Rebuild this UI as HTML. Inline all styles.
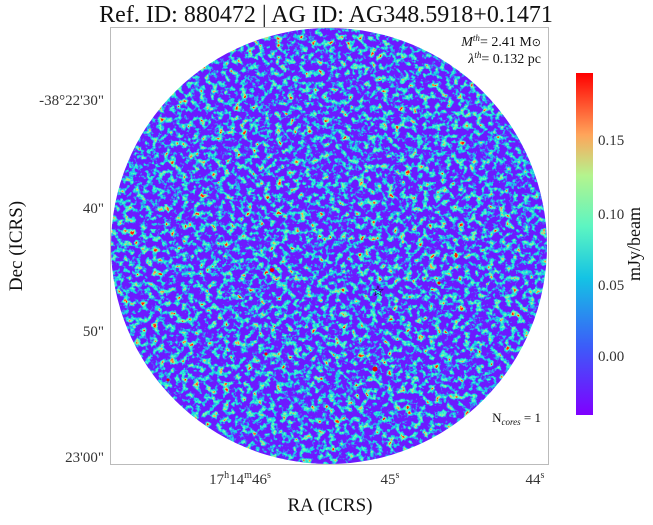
<!DOCTYPE html>
<html><head><meta charset="utf-8"><style>
body{margin:0;background:#fff;}
svg text{font-family:"Liberation Serif",serif;fill:#333;}
</style></head><body>
<svg width="653" height="520" xmlns="http://www.w3.org/2000/svg">
<defs>
<filter id="nz" x="0" y="0" width="100%" height="100%" color-interpolation-filters="sRGB">
<feTurbulence type="fractalNoise" baseFrequency="0.17" numOctaves="3" seed="7" result="t"/>
<feColorMatrix type="matrix" values="1 0 0 0 0 1 0 0 0 0 1 0 0 0 0 0 0 0 0 1" in="t"/>
<feComponentTransfer>
<feFuncR type="linear" slope="1.5" intercept="-0.25"/>
<feFuncG type="linear" slope="1.5" intercept="-0.25"/>
<feFuncB type="linear" slope="1.5" intercept="-0.25"/>
</feComponentTransfer>
<feComponentTransfer>
<feFuncR type="discrete" tableValues="0.43 0.43 0.43 0.43 0.43 0.43 0.43 0.43 0.3 0.15 0.1 0.2 0.35 0.6 1 1"/>
<feFuncG type="discrete" tableValues="0.1 0.1 0.1 0.1 0.1 0.1 0.1 0.1 0.4 0.7 0.85 0.93 0.95 0.95 0.65 0.1"/>
<feFuncB type="discrete" tableValues="1 1 1 1 1 1 1 1 0.98 0.93 0.88 0.82 0.75 0.6 0.3 0.05"/>
</feComponentTransfer>
</filter>
<clipPath id="cc"><circle cx="329" cy="246" r="218"/></clipPath>
<linearGradient id="cb" x1="0" y1="1" x2="0" y2="0">
<stop offset="0" stop-color="#7f00ff"/>
<stop offset="0.2" stop-color="#3c5cf9"/>
<stop offset="0.4" stop-color="#14c3e4"/>
<stop offset="0.55" stop-color="#5cf5c2"/>
<stop offset="0.7" stop-color="#b4f48e"/>
<stop offset="0.82" stop-color="#ffa45a"/>
<stop offset="1" stop-color="#ff0000"/>
</linearGradient>
</defs>
<text x="326" y="22" font-size="24" text-anchor="middle" style="fill:#111">Ref. ID: 880472 | AG ID: AG348.5918+0.1471</text>
<rect x="110.5" y="27.5" width="438" height="437" fill="#fff" stroke="#bbb"/>
<g clip-path="url(#cc)"><rect x="110" y="28" width="438" height="436" filter="url(#nz)"/></g>
<g fill="#e00"><circle cx="272" cy="270" r="2"/><circle cx="375" cy="369" r="2.5"/><circle cx="439" cy="283" r="1.5"/><circle cx="266" cy="354" r="1.5"/><circle cx="168" cy="380" r="1.5"/></g>
<text x="378" y="296" font-size="15" text-anchor="middle" style="fill:#000">☆</text>
<text x="541" y="46" font-size="14" text-anchor="end" style="fill:#111"><tspan font-style="italic">M</tspan><tspan font-size="9" dy="-5" font-style="italic">th</tspan><tspan dy="5">= 2.41 M</tspan><tspan font-size="11">⊙</tspan></text>
<text x="541" y="63" font-size="14" text-anchor="end" style="fill:#111"><tspan font-style="italic">λ</tspan><tspan font-size="9" dy="-5" font-style="italic">th</tspan><tspan dy="5">= 0.132 pc</tspan></text>
<text x="541" y="422" font-size="13" text-anchor="end" style="fill:#111">N<tspan font-size="9" dy="3" font-style="italic">cores</tspan><tspan dy="-3"> = 1</tspan></text>
<g font-size="15" text-anchor="end">
<text x="104" y="105">-38°22'30"</text>
<text x="104" y="213">40"</text>
<text x="104" y="336">50"</text>
<text x="104" y="462">23'00"</text>
</g>
<g font-size="15" text-anchor="middle">
<text x="240" y="484">17<tspan font-size="10" dy="-6">h</tspan><tspan dy="6">14</tspan><tspan font-size="10" dy="-6">m</tspan><tspan dy="6">46</tspan><tspan font-size="10" dy="-6">s</tspan></text>
<text x="390" y="484">45<tspan font-size="10" dy="-6">s</tspan></text>
<text x="535" y="484">44<tspan font-size="10" dy="-6">s</tspan></text>
</g>
<text x="330" y="511" font-size="19" text-anchor="middle" style="fill:#111">RA (ICRS)</text>
<text transform="translate(22,246) rotate(-90)" font-size="19" text-anchor="middle" style="fill:#111">Dec (ICRS)</text>
<rect x="576" y="73" width="17" height="342" fill="url(#cb)"/>
<g font-size="15">
<text x="598" y="145">0.15</text>
<text x="598" y="219">0.10</text>
<text x="598" y="290">0.05</text>
<text x="598" y="361">0.00</text>
</g>
<text transform="translate(640,244) rotate(-90)" font-size="18" text-anchor="middle" style="fill:#111">mJy/beam</text>
</svg>
</body></html>
